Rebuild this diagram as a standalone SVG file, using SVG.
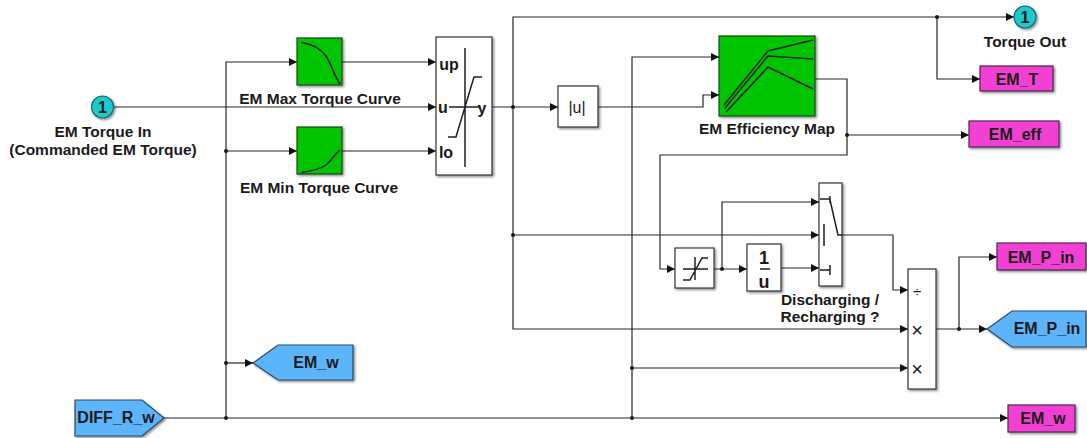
<svg xmlns="http://www.w3.org/2000/svg" width="1087" height="438" viewBox="0 0 1087 438">
<style>
text{font-family:"Liberation Sans",Arial,sans-serif;font-weight:bold;fill:#1a1a1a;text-anchor:middle;dominant-baseline:central}
.l{font-size:15.500px}
.b{font-size:14px}
.t{font-size:16px}
.x{font-size:20px;font-weight:normal}
.c{fill:none;stroke:#262626;stroke-width:1.200}
.g{fill:none;stroke:#1f1f1f;stroke-width:1.500}
.w{fill:#fff;stroke:#333;stroke-width:1.200;filter:url(#s)}
.gr{fill:#00c400;stroke:#1c4a1c;stroke-width:1.200;filter:url(#s)}
.m{fill:#f23fd2;stroke:#4a2a50;stroke-width:1.200;filter:url(#s)}
.bl{fill:#5cb4fa;stroke:#2a4a66;stroke-width:1.200;filter:url(#s)}
.p{fill:#1fc9cc;stroke:#1a6a70;stroke-width:1.200;filter:url(#s)}
.d{fill:#1a1a1a}
</style>
<defs>
<filter id="s" x="-20%" y="-20%" width="150%" height="150%"><feDropShadow dx="1.500" dy="1.500" stdDeviation="1" flood-color="#000" flood-opacity="0.450"/></filter>
<marker id="a" markerUnits="userSpaceOnUse" markerWidth="9" markerHeight="9" refX="8" refY="4.500" orient="auto"><path d="M0 0.500L8 4.500L0 8.500Z" fill="#111"/></marker>
</defs>
<rect width="1087" height="438" fill="#fff"/>
<g id="connectors">
<path class="c" marker-end="url(#a)" d="M113 107H436"/>
<path class="c" marker-end="url(#a)" d="M226 418V62H297"/>
<path class="c" marker-end="url(#a)" d="M226 151H297"/>
<path class="c" marker-end="url(#a)" d="M342 62H436"/>
<path class="c" marker-end="url(#a)" d="M342 151H436"/>
<path class="c" marker-end="url(#a)" d="M226 363H253"/>
<path class="c" marker-end="url(#a)" d="M164 418H1008"/>
<path class="c" marker-end="url(#a)" d="M492 107H558"/>
<path class="c" marker-end="url(#a)" d="M513 107V17H1014"/>
<path class="c" marker-end="url(#a)" d="M937 17V79H980"/>
<path class="c" marker-end="url(#a)" d="M598 107H703V95H719"/>
<path class="c" marker-end="url(#a)" d="M632 418V57H719"/>
<path class="c" marker-end="url(#a)" d="M815 79H847V155H660V269H675"/>
<path class="c" marker-end="url(#a)" d="M847 135H969"/>
<path class="c" marker-end="url(#a)" d="M714 269H747"/>
<path class="c" marker-end="url(#a)" d="M722 269V202H819"/>
<path class="c" marker-end="url(#a)" d="M781 268H819"/>
<path class="c" marker-end="url(#a)" d="M513 107V235H819"/>
<path class="c" marker-end="url(#a)" d="M513 235V329H908"/>
<path class="c" marker-end="url(#a)" d="M632 368H908"/>
<path class="c" marker-end="url(#a)" d="M842 235H893V290H908"/>
<path class="c" marker-end="url(#a)" d="M936 329H987"/>
<path class="c" marker-end="url(#a)" d="M959 329V257H997"/>
<circle class="d" cx="226" cy="151" r="2"/><circle class="d" cx="226" cy="363" r="2"/><circle class="d" cx="226" cy="418" r="2"/>
<circle class="d" cx="513" cy="107" r="2"/><circle class="d" cx="513" cy="235" r="2"/><circle class="d" cx="937" cy="17" r="2"/>
<circle class="d" cx="847" cy="135" r="2"/><circle class="d" cx="722" cy="269" r="2"/><circle class="d" cx="959" cy="329" r="2"/>
<circle class="d" cx="632" cy="368" r="2"/><circle class="d" cx="632" cy="418" r="2"/>
</g>
<g id="em-torque-in"><circle class="p" cx="102.500" cy="107" r="11"/><text class="t" x="102.500" y="107">1</text><text class="l" x="103" y="131">EM Torque In</text><text class="l" x="103" y="149">(Commanded EM Torque)</text></g>
<g id="em-max-torque-curve"><rect class="gr" x="297" y="38" width="45" height="47"/><path class="g" d="M301.500 42.500C312 44 320 48 326 56C332 66 334 75 340 84"/><text class="l" x="320" y="98">EM Max Torque Curve</text></g>
<g id="em-min-torque-curve"><rect class="gr" x="297" y="127" width="45" height="47"/><path class="g" d="M301.500 172.500C312 171 320 169 326 165C332 160 334 155 340 150"/><text class="l" x="319" y="187">EM Min Torque Curve</text></g>
<g id="saturation-dynamic"><rect class="w" x="436" y="37" width="56" height="138"/><path class="g" d="M465 48V167M448 137H456L474 77H482M449 107H480"/><text class="t" x="449" y="64">up</text><text class="t" x="443" y="107">u</text><text class="t" x="482" y="108">y</text><text class="t" x="446" y="152">lo</text></g>
<g id="abs"><rect class="w" x="558" y="86" width="40" height="41"/><text class="t" x="577" y="107" style="font-weight:normal">|u|</text></g>
<g id="em-efficiency-map"><rect class="gr" x="719" y="36" width="96" height="80"/><path class="g" d="M724 105L768 51L813 40M725 108L768 56L813 59M726 112L768 67L813 89"/><text class="l" x="767" y="128">EM Efficiency Map</text></g>
<g id="torque-out"><circle class="p" cx="1025" cy="17" r="11"/><text class="t" x="1025" y="17">1</text><text class="l" x="1025" y="41">Torque Out</text></g>
<g id="goto-em-t"><rect class="m" x="980" y="66" width="73" height="25"/><text class="t" x="1017" y="79">EM_T</text></g>
<g id="goto-em-eff"><rect class="m" x="969" y="121" width="90" height="26"/><text class="t" x="1015" y="134">EM_eff</text></g>
<g id="saturation"><rect class="w" x="675" y="248" width="39" height="40"/><path class="g" d="M695 257V280M683 269H708M683 280H690L702 258H708"/></g>
<g id="reciprocal"><rect class="w" x="747" y="244" width="34" height="47"/><path class="g" d="M760 269H770"/><text class="t" x="764" y="258" style="font-size:18px">1</text><text class="t" x="764" y="282" style="font-size:18px">u</text></g>
<g id="switch"><rect class="w" x="819" y="183" width="23" height="103"/><path class="g" d="M820 199H830M830 196V203M824 224V246M820 270H830M830 265V275M830 200L838 235H842"/><text class="l" x="830" y="299">Discharging /</text><text class="l" x="830" y="316">Recharging ?</text></g>
<g id="product"><rect class="w" x="908" y="269" width="28" height="120"/><text class="x" x="917" y="291" style="font-size:15px">÷</text><text class="x" x="917" y="330">×</text><text class="x" x="917" y="369">×</text></g>
<g id="goto-em-p-in"><rect class="m" x="997" y="243" width="89" height="27"/><text class="t" x="1041" y="257">EM_P_in</text></g>
<g id="from-em-p-in"><path class="bl" d="M987 329L1012 311H1086V347H1012Z"/><text class="t" x="1047" y="328">EM_P_in</text></g>
<g id="from-em-w"><path class="bl" d="M253 363L278 345H353V380H278Z"/><text class="t" x="316" y="362">EM_w</text></g>
<g id="from-diff-r-w"><path class="bl" d="M75 400H142L164 418L142 436H75Z"/><text class="t" x="116" y="417">DIFF_R_w</text></g>
<g id="goto-em-w"><rect class="m" x="1008" y="405" width="67" height="27"/><text class="t" x="1043" y="418">EM_w</text></g>
</svg>
